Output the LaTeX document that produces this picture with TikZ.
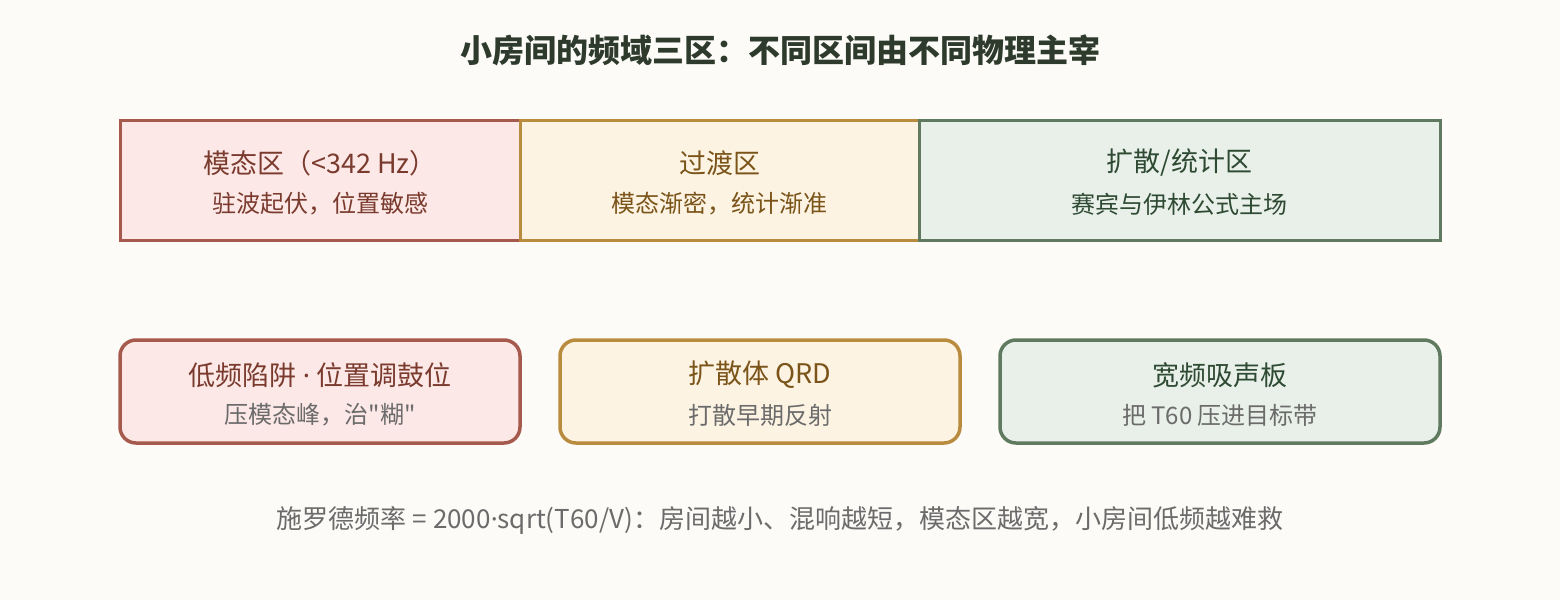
\documentclass[tikz,border=0pt]{standalone}
\usepackage{fontspec}
\setmainfont{Noto Sans CJK SC}[Ligatures=TeXOff]
\newfontfamily\dotfont{Noto Sans}
\newcommand{\middot}{{\dotfont ·}}
\usetikzlibrary{positioning,calc}
\definecolor{bgpaper}{HTML}{FCFBF8}
\definecolor{modeline}{HTML}{A65A4E}
\definecolor{modefill}{HTML}{FCE8E6}
\definecolor{modetext}{HTML}{7A3B2E}
\definecolor{transline}{HTML}{B88B3E}
\definecolor{transfill}{HTML}{FDF3E3}
\definecolor{transtext}{HTML}{7A5419}
\definecolor{diffline}{HTML}{5F7A5F}
\definecolor{difffill}{HTML}{E8F0E9}
\definecolor{difftext}{HTML}{2F4A33}
\definecolor{notetext}{HTML}{6B6B6B}
\definecolor{titletext}{HTML}{2E3B2C}
\tikzset{
    zone/.style={draw,line width=1.5pt,inner sep=0pt,minimum height=60pt},
    fix/.style={draw,line width=1.75pt,rounded corners=8pt,inner sep=0pt,minimum width=200pt,minimum height=51.5pt},
    head/.style={inner sep=0pt,font=\fontsize{13.5}{16}\selectfont},
    sub/.style={inner sep=0pt,font=\fontsize{12}{14}\selectfont},
    note/.style={inner sep=0pt,font=\fontsize{13}{15}\selectfont,text=notetext}
}
\begin{document}
\begin{tikzpicture}[x=0.5pt,y=-0.5pt]
    \fill[bgpaper] (0,0) rectangle (1560,600);
    \useasboundingbox (0,0) rectangle (1560,600);
    % title
    \node[inner sep=0pt,font=\fontsize{16}{19}\selectfont\bfseries,text=titletext] (title) at (780,50) {小房间的频域三区：不同区间由不同物理主宰};
    % the three zones
    \node[zone,minimum width=200pt,draw=modeline,fill=modefill] (modal) at (320,180) {};
    \node[zone,minimum width=199.5pt,draw=transline,fill=transfill] (trans) at (719.5,180) {};
    \node[zone,minimum width=260.5pt,draw=diffline,fill=difffill] (diff) at (1179.5,180) {};
    \node[head,text=modetext] (modalhead) at ($(modal.center)+(0,-17)$) {模态区（<342 Hz）};
    \node[sub,text=modetext] (modalsub) at ($(modal.center)+(0,24)$) {驻波起伏，位置敏感};
    \node[head,text=transtext] (transhead) at ($(trans.center)+(0,-17)$) {过渡区};
    \node[sub,text=transtext] (transsub) at ($(trans.center)+(0,24)$) {模态渐密，统计渐准};
    \node[head,text=difftext] (diffhead) at ($(diff.center)+(0,-17)$) {扩散/统计区};
    \node[sub,text=difftext] (diffsub) at ($(diff.center)+(0,24)$) {赛宾与伊林公式主场};
    % treatments
    \node[fix,draw=modeline,fill=modefill] (trap) at (320,391.5) {};
    \node[fix,draw=transline,fill=transfill] (qrd) at (760,391.5) {};
    \node[fix,minimum width=220pt,draw=diffline,fill=difffill] (panel) at (1220,391.5) {};
    \node[head,text=modetext] (traphead) at ($(trap.center)+(0,-16.5)$) {低频陷阱 \middot{} 位置调鼓位};
    \node[sub,text=notetext] (trapsub) at ($(trap.center)+(0,23.5)$) {压模态峰，治"糊"};
    \node[head,text=transtext] (qrdhead) at ($(qrd.center)+(0,-16.5)$) {扩散体 QRD};
    \node[sub,text=notetext] (qrdsub) at ($(qrd.center)+(0,23.5)$) {打散早期反射};
    \node[head,text=difftext] (panelhead) at ($(panel.center)+(0,-16.5)$) {宽频吸声板};
    \node[sub,text=notetext] (panelsub) at ($(panel.center)+(0,23.5)$) {把 T60 压进目标带};
    % footer
    \node[note] (schroeder) at (780,520) {施罗德频率 = 2000\middot{}sqrt(T60/V)：房间越小、混响越短，模态区越宽，小房间低频越难救};
\end{tikzpicture}
\end{document}
